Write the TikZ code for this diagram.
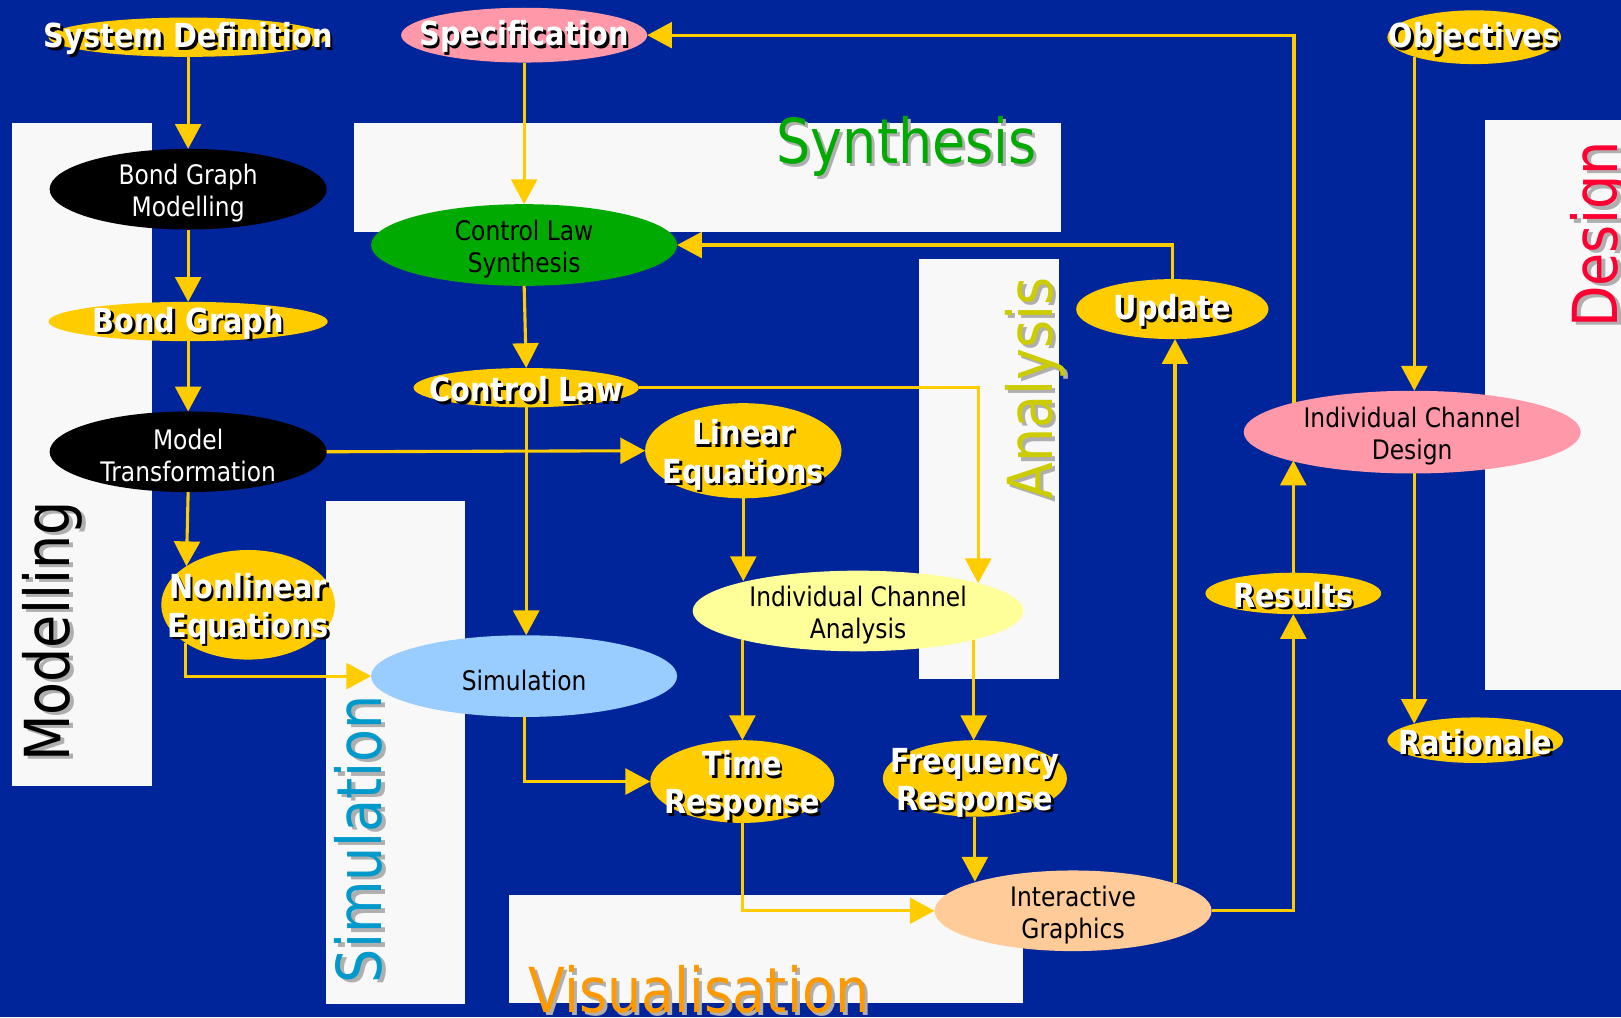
\documentclass[tikz,border=0pt]{standalone}
\usepackage{fontspec}
\setmainfont{DejaVu Sans}[FakeStretch=0.87]
\usetikzlibrary{shapes.geometric,arrows.meta,calc}

\definecolor{bgblue}{RGB}{0,36,153}
\definecolor{panelgrey}{RGB}{248,248,248}
\definecolor{flow}{RGB}{255,204,0}
\definecolor{rose}{RGB}{255,153,170}
\definecolor{leaf}{RGB}{0,170,0}
\definecolor{cream}{RGB}{255,255,153}
\definecolor{sky}{RGB}{153,204,255}
\definecolor{peach}{RGB}{255,204,153}
\definecolor{olivec}{RGB}{204,204,0}
\definecolor{scarlet}{RGB}{255,0,51}
\definecolor{simcol}{RGB}{0,153,204}
\definecolor{orangec}{RGB}{255,153,0}
\definecolor{shade}{RGB}{175,175,175}

\tikzset{
  blob/.style={ellipse, inner sep=0pt, outer sep=0pt, draw=none},
  flowline/.style={draw=flow, line width=3pt, -{Triangle[length=24pt,width=25pt]}},
  plain/.style={font=\fontsize{26}{31}\selectfont, align=center, inner sep=0pt, yshift=-4pt},
  heavy/.style={font=\bfseries\fontsize{32}{37}\selectfont, align=center, inner sep=0pt, yshift=-4pt},
  heavyone/.style={font=\bfseries\fontsize{32}{37}\selectfont, align=center, inner sep=0pt, yshift=-1.5pt},
  title/.style={font=\fontsize{60}{72}\selectfont, inner sep=0pt},
}

% text with a drop shadow: name, position, style, colour, shadow colour, offset, text
\newcommand\castlabel[7]{%
  \node[#3, text=#5] (#1-sh) at ($(#2)+(#6,#6)$) {#7};
  \node[#3, text=#4] (#1) at (#2) {#7};
}

\begin{document}
\begin{tikzpicture}[x=1pt,y=-1pt]
\fill[bgblue] (0,0) rectangle (1568,984);
\useasboundingbox (0,0) rectangle (1568,984);

% activity panels
\fill[panelgrey] (12,119) rectangle (147,760);
\fill[panelgrey] (342,119) rectangle (1026,224);
\fill[panelgrey] (889,251) rectangle (1024,657);
\fill[panelgrey] (315,485) rectangle (450,971);
\fill[panelgrey] (492,866) rectangle (990,970);
\fill[panelgrey] (1436,116) rectangle (1568,667);

% panel titles
\castlabel{tModel}{67.7,611}{title,rotate=90,anchor=base}{black}{shade}{3}{Modelling}
\castlabel{tSynth}{751,158}{title,anchor=base west}{leaf}{shade}{3}{Synthesis}
\castlabel{tAnal}{1017.6,376}{title,rotate=90,anchor=base}{olivec}{shade}{3}{Analysis}
\castlabel{tSim}{369.5,812}{title,rotate=90,anchor=base}{simcol}{shade}{3}{Simulation}
\castlabel{tVis}{511,979}{title,anchor=base west}{orangec}{shade}{3}{Visualisation}
\castlabel{tDes}{1565,227}{title,rotate=90,anchor=base}{scarlet}{shade}{3}{Design}

% ellipses
\node[blob, fill=flow,  minimum width=270pt, minimum height=38pt] (sysdef) at (182,36) {};
\node[blob, fill=rose,  minimum width=238pt, minimum height=53pt] (spec) at (507,34) {};
\node[blob, fill=flow,  minimum width=168pt, minimum height=52pt] (obj) at (1426,36) {};
\node[blob, fill=black, minimum width=268pt, minimum height=78pt] (bgm) at (182,183) {};
\node[blob, fill=leaf,  minimum width=296pt, minimum height=79pt] (cls) at (507,237) {};
\node[blob, fill=flow,  minimum width=270pt, minimum height=38pt] (bg) at (182,311) {};
\node[blob, fill=flow,  minimum width=186pt, minimum height=58pt] (upd) at (1134,299) {};
\node[blob, fill=flow,  minimum width=218pt, minimum height=38pt] (cl) at (509,375) {};
\node[blob, fill=rose,  minimum width=326pt, minimum height=80pt] (icd) at (1366,418) {};
\node[blob, fill=black, minimum width=268pt, minimum height=78pt] (mt) at (182,437) {};
\node[blob, fill=flow,  minimum width=190pt, minimum height=92pt] (le) at (719,436) {};
\node[blob, fill=flow,  minimum width=168pt, minimum height=106pt] (nl) at (240,585) {};
\node[blob, fill=cream, minimum width=320pt, minimum height=78pt] (ica) at (830,591) {};
\node[blob, fill=flow,  minimum width=170pt, minimum height=40pt] (res) at (1251,574) {};
\node[blob, fill=sky,   minimum width=296pt, minimum height=79pt] (sim) at (507,654) {};
\node[blob, fill=flow,  minimum width=170pt, minimum height=44pt] (rat) at (1427,716) {};
\node[blob, fill=flow,  minimum width=178pt, minimum height=80pt] (tr) at (718,756) {};
\node[blob, fill=flow,  minimum width=178pt, minimum height=74pt] (fr) at (943,753) {};
\node[blob, fill=peach, minimum width=268pt, minimum height=78pt] (ig) at (1038,881) {};

% connectors
\draw[flowline] (sysdef.south) -- (bgm.north);
\draw[flowline] (bgm.south) -- (bg.north);
\draw[flowline] (bg.south) -- (mt.north);
\draw[flowline] (mt.south) -- (nl.148.3);
\draw[flowline] (nl.211.7) |- (sim.west);
\draw[flowline] (spec.south) -- (cls.north);
\draw[flowline] (cls.south) -- (cl.north);
\draw[flowline] (cl.south) -- (cl.south |- sim.north);
\draw[flowline] (mt.east) -- (le.west);
\draw[flowline] (cl.east) -| (ica.13.7);
\draw[flowline] (le.south) -- (le.south |- ica.165.8);
\draw[flowline] (ica.194.2) -- (ica.194.2 |- tr.north);
\draw[flowline] (ica.346.3) -- (ica.346.3 |- fr.north);
\draw[flowline] (sim.south) |- (tr.west);
\draw[flowline] (tr.south) |- (ig.west);
\draw[flowline] (fr.south) -- (fr.south |- ig.163.9);
\draw[flowline] (ig.east) -| (res.south);
\draw[flowline] (res.north) -- (res.north |- icd.193.8);
\draw[flowline] (ig.15.8) -- (ig.15.8 |- upd.south);
\draw[flowline] (upd.north) |- (cls.east);
\draw[flowline] (icd.166.2) |- (spec.east);
\draw[flowline] (obj.198) -- (obj.198 |- icd.north);
\draw[flowline] (rat.165 |- icd.south) -- (rat.165);

% ellipse texts
\castlabel{sysdefT}{sysdef}{heavyone}{white}{black}{2.5}{System Definition}
\castlabel{specT}{spec}{heavyone}{white}{black}{2.5}{Specification}
\castlabel{objT}{obj}{heavyone}{white}{black}{2.5}{Objectives}
\castlabel{bgT}{bg}{heavyone}{white}{black}{2.5}{Bond Graph}
\castlabel{updT}{upd}{heavyone}{white}{black}{2.5}{Update}
\castlabel{clT}{cl}{heavyone}{white}{black}{2.5}{Control Law}
\castlabel{leT}{le}{heavy}{white}{black}{2.5}{Linear\\Equations}
\castlabel{nlT}{nl}{heavy}{white}{black}{2.5}{Nonlinear\\Equations}
\castlabel{resT}{res}{heavyone}{white}{black}{2.5}{Results}
\castlabel{ratT}{rat}{heavyone}{white}{black}{2.5}{Rationale}
\castlabel{trT}{tr}{heavy}{white}{black}{2.5}{Time\\Response}
\castlabel{frT}{fr}{heavy}{white}{black}{2.5}{Frequency\\Response}

\node[plain, text=white] (bgmT) at (bgm) {Bond Graph\\Modelling};
\node[plain, text=white] (mtT) at (mt) {Model\\Transformation};
\node[plain] (clsT) at (cls) {Control Law\\Synthesis};
\node[plain] (icdT) at (icd) {Individual Channel\\Design};
\node[plain] (icaT) at (ica) {Individual Channel\\Analysis};
\node[plain] (simT) at (sim) {Simulation};
\node[plain] (igT) at (ig) {Interactive\\Graphics};
\end{tikzpicture}
\end{document}
